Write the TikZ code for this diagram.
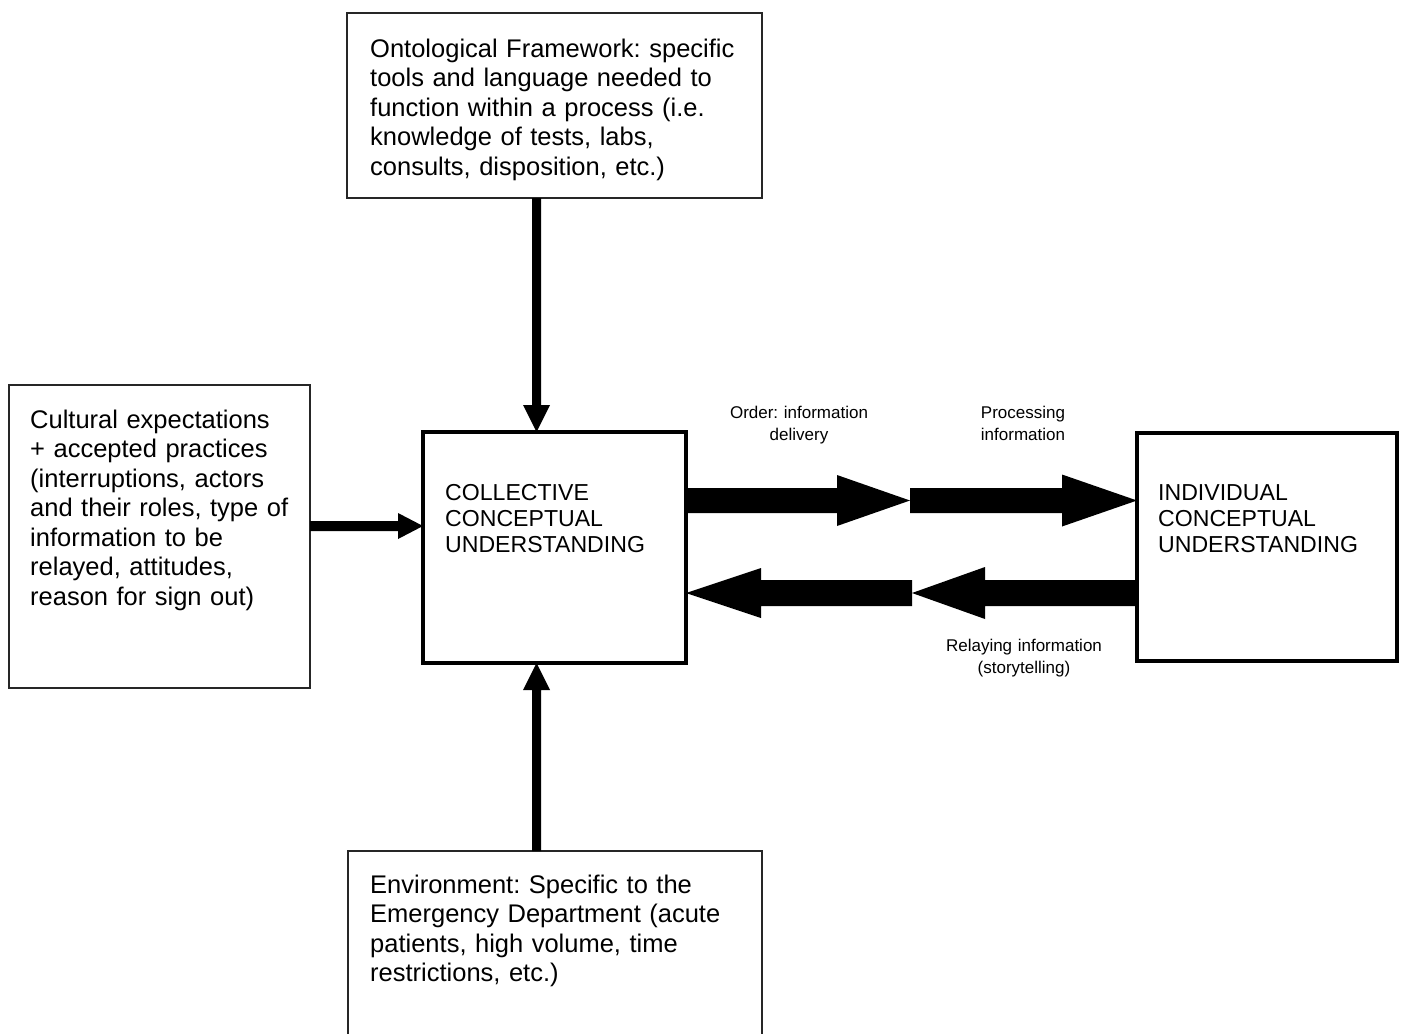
\documentclass[tikz,border=0pt]{standalone}
\usepackage{fontspec}
\setmainfont{Liberation Sans}
\usetikzlibrary{calc}
\frenchspacing
\newcommand\blockarrow[5]{%
  \coordinate (hb) at ($(#2)!#4!(#1)$);
  \fill[black] ($(#1)!#3!90:(#2)$) -- ($(hb)!#3!90:(#2)$) -- ($(hb)!#5!90:(#2)$) -- (#2)
    -- ($(hb)!#5!-90:(#2)$) -- ($(hb)!#3!-90:(#2)$) -- ($(#1)!#3!-90:(#2)$) -- cycle;}
\begin{document}
\begin{tikzpicture}[x=1pt,y=-1pt,
  thinbox/.style={draw=black!85, line width=1.3pt, rectangle, inner sep=0pt, outer sep=0pt, anchor=north west},
  thickbox/.style={draw=black, line width=3.5pt, rectangle, inner sep=0pt, outer sep=0pt, anchor=north west},
  bigtext/.style={anchor=base west, inner sep=0pt, align=left, text width=500pt, font=\fontsize{25.5}{29.5}\selectfont\frenchspacing},
  captext/.style={anchor=base west, inner sep=0pt, align=left, text width=300pt, font=\fontsize{23.1}{26}\selectfont},
  lbl/.style={anchor=base, inner sep=0pt, align=center, text width=240pt, font=\fontsize{17}{22}\selectfont\frenchspacing}]
\useasboundingbox (0,0) rectangle (1401,1034);
\fill[white] (0,0) rectangle (1401,1034);
% boxes
\node[thinbox, minimum width=415pt, minimum height=185pt] (onto) at (347,13) {};
\node[thinbox, minimum width=301pt, minimum height=303pt] (cult) at (9,385) {};
\node[thickbox, minimum width=263pt, minimum height=231pt] (cc) at (423,432) {};
\node[thickbox, minimum width=260pt, minimum height=228pt] (ic) at (1137,433) {};
\node[thinbox, minimum width=414pt, minimum height=210pt] (env) at (348,851) {};
% texts
\node[bigtext] (ontot) at (370,57) {Ontological Framework: specific\\tools and language needed to\\function within a process (i.e.\\knowledge of tests, labs,\\consults, disposition, etc.)};
\node[bigtext] (cultt) at (30,428) {Cultural expectations\\+ accepted practices\\(interruptions, actors\\and their roles, type of\\information to be\\relayed, attitudes,\\reason for sign out)};
\node[bigtext] (envt) at (370,893) {Environment: Specific to the\\Emergency Department (acute\\patients, high volume, time\\restrictions, etc.)};
\node[captext] (cct) at (445,500) {COLLECTIVE\\CONCEPTUAL\\UNDERSTANDING};
\node[captext] (ict) at (1158,500) {INDIVIDUAL\\CONCEPTUAL\\UNDERSTANDING};
\node[lbl] (l1) at (799,418) {Order: information\\delivery};
\node[lbl] (l2) at (1023,418) {Processing\\information};
\node[lbl] (l3) at (1024,651) {Relaying information\\(storytelling)};
% coordinates for connectors
\coordinate (tA) at ($(onto.south)+(-18,0)$);
\coordinate (tB) at (tA |- cc.north);
\coordinate (bA) at (tA |- env.north);
\coordinate (bB) at (tA |- cc.south);
\coordinate (lA) at ($(cult.east)+(0,-10.5)$);
\coordinate (lB) at (cc.west |- lA);
\coordinate (m1) at (910,500.5);
\coordinate (r1) at (cc.east |- m1);
\coordinate (r2) at (ic.west |- m1);
\coordinate (m2) at (912,593);
\coordinate (q1) at (ic.west |- m2);
\coordinate (q2) at (cc.east |- m2);
% thin arrows
\blockarrow{tA}{tB}{4.5pt}{27pt}{13.5pt}
\blockarrow{bA}{bB}{4.5pt}{27pt}{13.5pt}
\blockarrow{lA}{lB}{5pt}{25pt}{13pt}
% fat arrows
\blockarrow{r1}{m1}{12.5pt}{73pt}{25.5pt}
\blockarrow{m1}{r2}{12.5pt}{75pt}{26pt}
\blockarrow{q1}{m2}{13pt}{73pt}{26pt}
\blockarrow{m2}{q2}{13pt}{75pt}{25pt}
\end{tikzpicture}
\end{document}
